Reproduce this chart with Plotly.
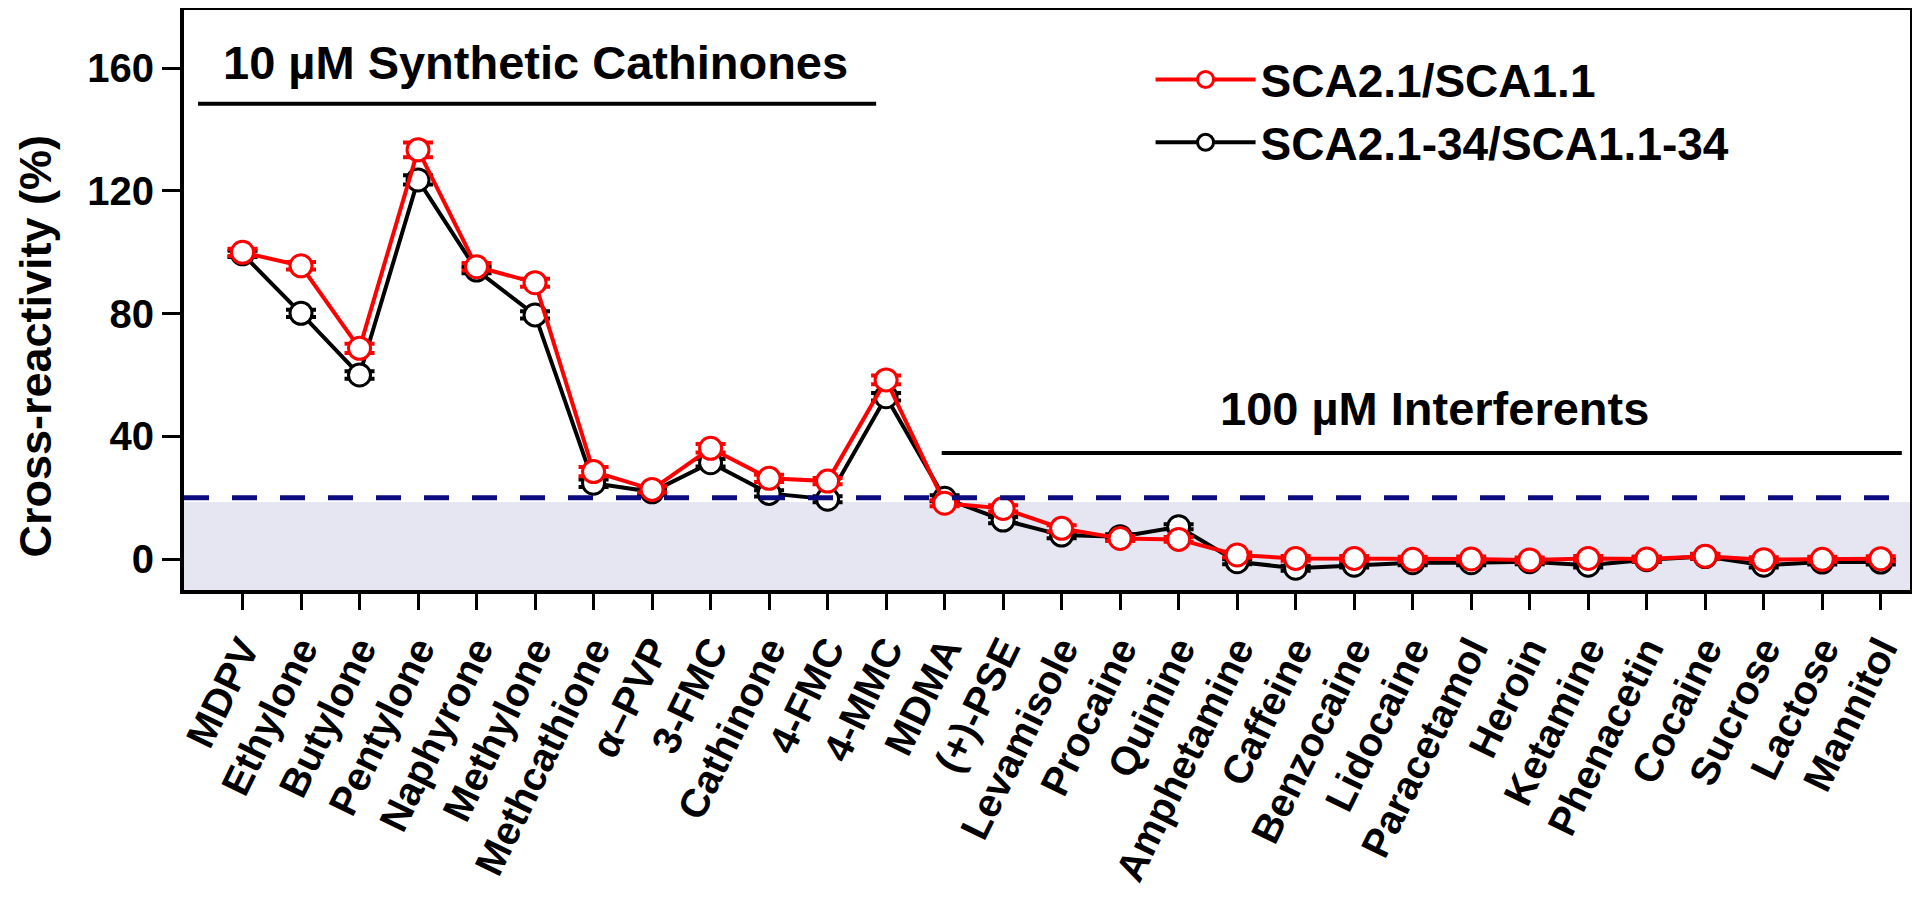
import plotly.graph_objects as go

compounds = ["MDPV", "Ethylone", "Butylone", "Pentylone", "Naphyrone", "Methylone",
             "Methcathione", "α–PVP", "3-FMC", "Cathinone", "4-FMC", "4-MMC",
             "MDMA", "(+)-PSE", "Levamisole", "Procaine", "Quinine", "Amphetamine",
             "Caffeine", "Benzocaine", "Lidocaine", "Paracetamol", "Heroin", "Ketamine",
             "Phenacetin", "Cocaine", "Sucrose", "Lactose", "Mannitol"]

sca21 = [100.0, 95.6, 68.7, 133.4, 95.3, 90.1, 28.5, 22.7, 36.1, 26.3, 25.4, 58.4,
         18.2, 16.5, 10.0, 6.7, 6.4, 1.3, 0.2, 0.2, -0.1, 0.0, -0.3, 0.2,
         0.0, 0.9, -0.2, -0.1, 0.1]
sca21_err = [1.2, 1.2, 1.5, 2.4, 1.2, 1.3, 1.5, 1.0, 1.4, 1.2, 1.0, 1.4,
             1.0, 1.0, 1.0, 0.8, 0.8, 0.8, 0.8, 0.8, 0.8, 0.8, 0.8, 0.8,
             0.8, 0.8, 0.8, 0.8, 0.8]

sca21_34 = [99.5, 80.1, 60.0, 123.6, 94.2, 79.6, 24.7, 21.9, 31.4, 21.4, 19.5, 52.9,
            19.8, 12.7, 7.8, 7.3, 10.5, -0.9, -3.0, -2.0, -1.2, -1.2, -0.9, -2.0,
            -0.2, 0.8, -2.0, -1.0, -1.0]
sca21_34_err = [1.0, 1.2, 1.2, 1.5, 1.0, 1.2, 1.2, 1.0, 1.2, 1.0, 1.0, 1.2,
                1.0, 1.0, 1.0, 0.8, 0.8, 0.8, 0.8, 0.8, 0.8, 0.8, 0.8, 0.8,
                0.8, 0.8, 0.8, 0.8, 0.8]

threshold = 20
FONT = "Liberation Sans, Arial, sans-serif"

fig = go.Figure()

fig.add_trace(go.Scatter(
    x=compounds, y=sca21_34, name="SCA2.1-34/SCA1.1-34", mode="lines+markers",
    line=dict(color="black", width=4),
    marker=dict(symbol="circle", size=22, color="white", line=dict(color="black", width=3)),
    error_y=dict(type="data", array=sca21_34_err, color="black", thickness=4, width=15),
))
fig.add_trace(go.Scatter(
    x=compounds, y=sca21, name="SCA2.1/SCA1.1", mode="lines+markers",
    line=dict(color="#ff0000", width=4),
    marker=dict(symbol="circle", size=22, color="white", line=dict(color="#ff0000", width=3)),
    error_y=dict(type="data", array=sca21_err, color="#ff0000", thickness=4, width=15),
))

# shaded zone below threshold and dashed threshold line
fig.add_shape(type="rect", xref="paper", x0=0, x1=1, yref="y", y0=-10.1, y1=18.6,
              fillcolor="#e6e6f2", line_width=0, layer="below")
fig.add_shape(type="line", xref="paper", x0=0, x1=1, yref="y", y0=threshold, y1=threshold,
              line=dict(color="#0c0c80", width=5, dash="25px,23px"))

# group brackets
fig.add_shape(type="line", x0=-0.76, x1=10.83, y0=148.4, y1=148.4, line=dict(color="black", width=4))
fig.add_shape(type="line", x0=11.95, x1=28.36, y0=34.6, y1=34.6, line=dict(color="black", width=4))
fig.add_annotation(x=5.0, y=162, text="<b>10 µM Synthetic Cathinones</b>", showarrow=False,
                   font=dict(family=FONT, size=47, color="black"))
fig.add_annotation(x=20.37, y=49.2, text="<b>100 µM Interferents</b>", showarrow=False,
                   font=dict(family=FONT, size=47, color="black"))

# y axis title
fig.add_annotation(xref="paper", yref="paper", x=-0.086, y=0.4207, text="<b>Cross-reactivity (%)</b>",
                   textangle=-90, showarrow=False, xanchor="center", yanchor="middle",
                   font=dict(family=FONT, size=45, color="black"))

fig.update_xaxes(
    type="category", range=[-1, 28.5], showline=True, linewidth=4, linecolor="black", mirror=True,
    ticks="outside", ticklen=16, tickwidth=3, tickcolor="black", tickangle=-64, automargin=False,
    tickfont=dict(family=FONT, size=40, color="black", weight="bold"), showgrid=False, zeroline=False,
)
fig.update_yaxes(
    range=[-10.1, 179], tickvals=[0, 40, 80, 120, 160], showline=True, linewidth=4,
    linecolor="black", mirror=True, ticks="outside", ticklen=18, tickwidth=3, tickcolor="black",
    automargin=False,
    tickfont=dict(family=FONT, size=40, color="black", weight="bold"), showgrid=False, zeroline=False,
)

# page body keeps an 8px margin, so the figure is sized to fit the 1920x905 window
fig.update_layout(
    width=1904, height=889, margin=dict(l=176, r=2, t=2, b=307),
    plot_bgcolor="white", paper_bgcolor="white",
    font=dict(family=FONT, color="black"),
    legend=dict(x=0.5600, y=0.943, xanchor="left", yanchor="top", traceorder="reversed",
                font=dict(family=FONT, size=46, color="black", weight="bold"),
                bgcolor="rgba(0,0,0,0)", itemwidth=100),
)

fig.write_html("out.html")
